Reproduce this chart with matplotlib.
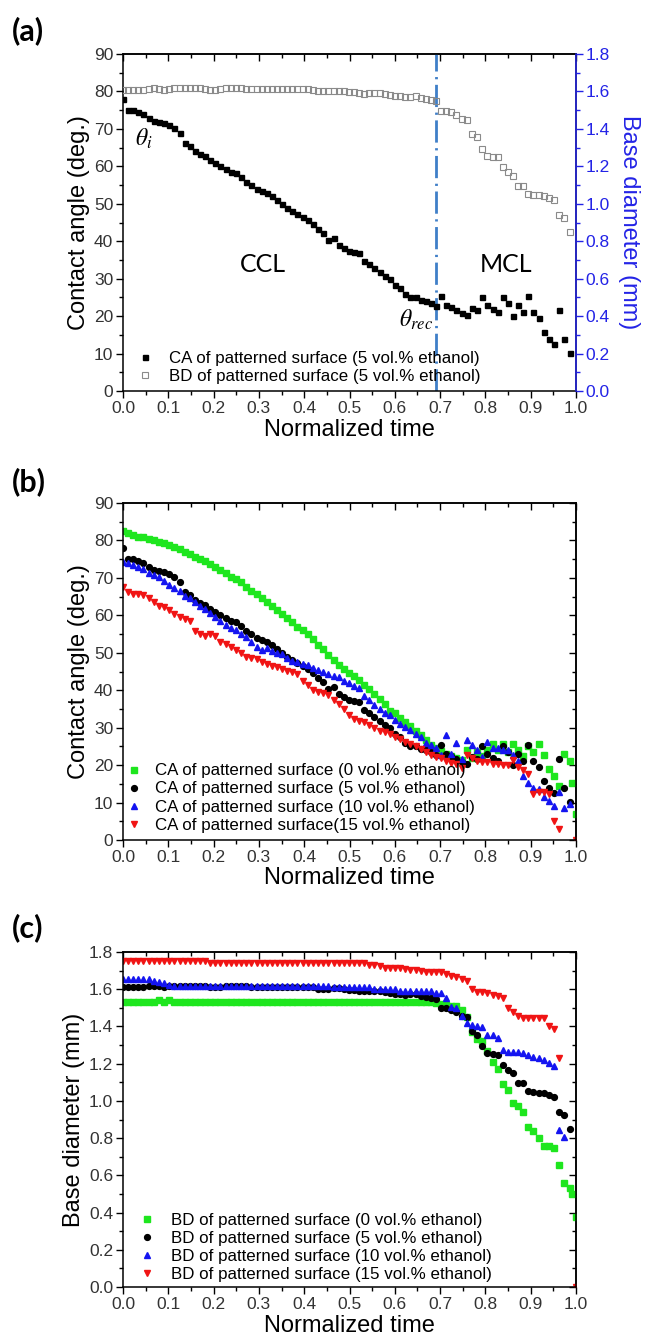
import numpy as np
import matplotlib
matplotlib.use('Agg')
import matplotlib.pyplot as plt
from matplotlib.ticker import MultipleLocator, NullFormatter, FormatStrFormatter
from matplotlib.lines import Line2D

plt.rcParams['font.family'] = ['Liberation Sans', 'DejaVu Sans']
plt.rcParams['mathtext.fontset'] = 'stix'

GREEN = '#1ee61e'
BLUE = '#1414f0'
RED = '#f01414'
GRAY = '#8a8a8a'
VLINE = '#3f7fc8'
AXIS_BLUE = '#2323e6'
TICK_COLOR = '#333333'

# normalized time of each sample
T = [
    0.000, 0.011, 0.023, 0.034, 0.045, 0.057, 0.068, 0.079, 0.091, 0.102,
    0.113, 0.125, 0.136, 0.147, 0.159, 0.170, 0.181, 0.193, 0.204, 0.215,
    0.227, 0.238, 0.249, 0.261, 0.272, 0.283, 0.295, 0.306, 0.317, 0.329,
    0.340, 0.351, 0.363, 0.374, 0.385, 0.397, 0.408, 0.419, 0.431, 0.442,
    0.453, 0.465, 0.476, 0.487, 0.499, 0.510, 0.521, 0.533, 0.544, 0.555,
    0.567, 0.578, 0.589, 0.600, 0.612, 0.623, 0.634, 0.646, 0.657, 0.668,
    0.680, 0.691, 0.702, 0.714, 0.725, 0.736, 0.748, 0.759, 0.770, 0.782,
    0.793, 0.804, 0.816, 0.827, 0.838, 0.850, 0.861, 0.872, 0.884, 0.895,
    0.906, 0.918, 0.929, 0.940, 0.952, 0.963, 0.974, 0.986, 0.992, 1.000,
]

# contact angle (deg.)
CA_0 = [
    82.4, 82.0, 81.5, 81.0, 80.8, 80.3, 80.0, 79.6, 79.3, 78.8,
    78.3, 77.6, 77.0, 76.3, 75.6, 75.0, 74.4, 73.6, 72.8, 72.0,
    71.2, 70.3, 69.6, 68.8, 67.5, 66.6, 65.6, 64.6, 63.6, 62.6,
    61.5, 60.4, 59.2, 58.1, 57.0, 56.0, 55.0, 53.6, 52.2, 50.9,
    49.5, 48.0, 46.8, 45.6, 44.7, 43.8, 42.7, 41.5, 40.2, 39.0,
    37.7, 36.4, 34.5, 33.8, 32.7, 31.6, 30.4, 29.2, 28.0, 26.7,
    25.5, 24.6, 23.8, 23.0, 22.3, 21.8, 21.3, 24.0, 22.0, 23.5,
    22.5, 24.0, 25.6, 24.0, 25.6, 23.5, 25.6, 24.0, 22.5, 25.2,
    23.4, 25.6, 22.7, 18.9, 17.1, 14.4, 22.9, 21.0, 15.3, 7.0,
]
CA_5 = [
    78.0, 75.0, 75.0, 74.5, 74.0, 73.0, 72.2, 71.8, 71.5, 71.0,
    70.3, 69.0, 66.3, 65.3, 64.0, 63.2, 62.8, 61.8, 60.8, 60.2,
    59.3, 58.5, 58.3, 57.2, 55.8, 55.0, 54.0, 53.3, 52.8, 52.0,
    51.0, 50.0, 49.0, 48.2, 47.3, 46.5, 45.7, 44.5, 43.3, 42.3,
    40.3, 40.9, 39.0, 38.2, 37.5, 37.0, 36.8, 34.6, 33.8, 32.8,
    31.8, 30.8, 30.0, 28.3, 27.5, 26.0, 25.0, 25.2, 24.3, 24.0,
    23.5, 22.8, 25.3, 23.0, 22.3, 21.6, 20.9, 20.4, 22.2, 21.6,
    25.0, 23.0, 22.0, 21.0, 25.0, 23.6, 20.0, 22.9, 21.0, 25.3,
    21.2, 19.4, 15.7, 13.9, 12.6, 21.5, 13.8, 10.1, None, None,
]
CA_10 = [
    74.3, 74.0, 73.5, 73.0, 72.3, 71.2, 70.8, 70.3, 69.3, 68.2,
    67.3, 66.5, 65.2, 64.5, 63.5, 62.6, 61.8, 60.5, 59.5, 58.5,
    57.5, 56.5, 56.0, 55.0, 54.3, 53.0, 51.5, 50.8, 51.2, 50.5,
    50.0, 49.8, 48.5, 47.8, 47.5, 47.0, 46.8, 46.0, 45.5, 44.8,
    44.3, 43.8, 43.5, 42.5, 41.8, 41.0, 40.5, 38.5, 37.3, 36.0,
    35.0, 34.0, 33.3, 32.0, 31.0, 30.3, 29.5, 28.3, 27.5, 26.0,
    25.3, 24.5, 22.8, 28.0, 23.0, 25.8, 21.5, 26.7, 25.3, 24.0,
    22.2, 26.3, 24.7, 24.5, 24.0, 24.0, 22.7, 21.0, 17.0, 15.2,
    13.8, 13.5, 11.6, 10.3, 9.0, 12.7, 8.5, 9.7, None, None,
]
CA_15 = [
    67.5, 66.3, 65.7, 65.6, 65.3, 64.5, 63.5, 62.6, 62.2, 61.5,
    60.3, 59.5, 59.0, 58.5, 55.9, 55.0, 54.6, 55.0, 54.5, 52.8,
    52.4, 51.5, 50.8, 50.0, 49.0, 48.6, 48.3, 47.5, 47.0, 46.6,
    46.2, 45.8, 45.2, 44.8, 44.3, 42.5, 41.3, 40.0, 39.5, 39.2,
    38.8, 37.5, 36.2, 35.0, 33.5, 32.3, 31.8, 31.5, 30.8, 29.8,
    29.2, 28.8, 28.3, 27.5, 27.0, 26.2, 25.6, 25.0, 24.3, 23.5,
    22.8, 22.2, 21.8, 21.2, 20.6, 20.2, 19.3, 22.8, 22.0, 21.2,
    20.8, 20.7, 20.4, 20.3, 20.0, 19.9, 21.3, 19.5, 18.8, 17.5,
    12.4, 12.9, 12.8, 12.4, 5.2, 3.0, None, None, None, 0.0,
]

# base diameter (mm)
BD_0 = [
    1.530, 1.530, 1.530, 1.530, 1.530, 1.530, 1.530, 1.540, 1.530, 1.540,
    1.530, 1.530, 1.530, 1.530, 1.530, 1.530, 1.530, 1.530, 1.530, 1.530,
    1.530, 1.530, 1.530, 1.530, 1.530, 1.530, 1.530, 1.530, 1.530, 1.530,
    1.530, 1.530, 1.530, 1.530, 1.530, 1.530, 1.530, 1.530, 1.530, 1.530,
    1.530, 1.530, 1.530, 1.530, 1.530, 1.530, 1.530, 1.530, 1.530, 1.530,
    1.530, 1.530, 1.530, 1.530, 1.530, 1.530, 1.530, 1.530, 1.530, 1.530,
    1.530, 1.525, 1.520, 1.515, 1.510, 1.512, 1.490, 1.450, 1.370, 1.330,
    1.320, 1.270, 1.210, 1.170, 1.090, 1.060, 0.990, 0.970, 0.940, 0.860,
    0.840, 0.800, 0.760, 0.755, 0.745, 0.656, 0.558, 0.530, 0.500, 0.375,
]
BD_5 = [
    1.610, 1.610, 1.610, 1.610, 1.610, 1.615, 1.618, 1.615, 1.610, 1.615,
    1.618, 1.618, 1.618, 1.618, 1.618, 1.618, 1.615, 1.610, 1.610, 1.613,
    1.618, 1.618, 1.618, 1.618, 1.615, 1.613, 1.613, 1.613, 1.613, 1.613,
    1.613, 1.613, 1.613, 1.613, 1.613, 1.613, 1.613, 1.610, 1.600, 1.600,
    1.600, 1.605, 1.605, 1.600, 1.598, 1.595, 1.590, 1.588, 1.590, 1.592,
    1.590, 1.585, 1.580, 1.575, 1.575, 1.570, 1.572, 1.575, 1.565, 1.560,
    1.555, 1.548, 1.497, 1.497, 1.490, 1.475, 1.455, 1.449, 1.373, 1.355,
    1.293, 1.257, 1.250, 1.248, 1.195, 1.168, 1.150, 1.097, 1.097, 1.052,
    1.048, 1.045, 1.040, 1.030, 1.022, 0.940, 0.922, 0.848, None, None,
]
BD_10 = [
    1.655, 1.655, 1.655, 1.655, 1.655, 1.655, 1.645, 1.640, 1.635, 1.625,
    1.620, 1.620, 1.620, 1.620, 1.620, 1.620, 1.620, 1.620, 1.620, 1.620,
    1.620, 1.620, 1.620, 1.620, 1.620, 1.620, 1.620, 1.620, 1.620, 1.620,
    1.620, 1.620, 1.620, 1.620, 1.620, 1.620, 1.620, 1.620, 1.620, 1.620,
    1.620, 1.610, 1.610, 1.610, 1.610, 1.610, 1.610, 1.610, 1.610, 1.600,
    1.600, 1.600, 1.600, 1.600, 1.590, 1.590, 1.590, 1.590, 1.590, 1.590,
    1.590, 1.580, 1.580, 1.551, 1.506, 1.497, 1.455, 1.417, 1.408, 1.405,
    1.399, 1.354, 1.354, 1.336, 1.273, 1.265, 1.265, 1.265, 1.260, 1.247,
    1.238, 1.229, 1.220, 1.203, 1.185, 0.845, 0.805, None, None, None,
]
BD_15 = [
    1.752, 1.752, 1.752, 1.752, 1.752, 1.752, 1.752, 1.752, 1.752, 1.752,
    1.752, 1.752, 1.752, 1.752, 1.752, 1.752, 1.752, 1.741, 1.741, 1.741,
    1.741, 1.741, 1.741, 1.741, 1.741, 1.741, 1.741, 1.741, 1.741, 1.741,
    1.741, 1.741, 1.741, 1.741, 1.741, 1.741, 1.741, 1.741, 1.741, 1.741,
    1.741, 1.741, 1.741, 1.741, 1.741, 1.741, 1.741, 1.741, 1.728, 1.728,
    1.725, 1.716, 1.716, 1.716, 1.716, 1.710, 1.705, 1.705, 1.700, 1.693,
    1.693, 1.693, 1.690, 1.680, 1.672, 1.665, 1.655, 1.645, 1.600, 1.585,
    1.585, 1.580, 1.570, 1.562, 1.555, 1.498, 1.475, 1.455, 1.448, 1.448,
    1.448, 1.448, 1.448, 1.400, 1.388, 1.230, None, None, None, 0.000,
]

REC_TIME = 0.69  # onset of moving contact line

CA_LABELS = [
    'CA of patterned surface (0 vol.% ethanol)',
    'CA of patterned surface (5 vol.% ethanol)',
    'CA of patterned surface (10 vol.% ethanol)',
    'CA of patterned surface(15 vol.% ethanol)',
]
BD_LABELS = [
    'BD of patterned surface (0 vol.% ethanol)',
    'BD of patterned surface (5 vol.% ethanol)',
    'BD of patterned surface (10 vol.% ethanol)',
    'BD of patterned surface (15 vol.% ethanol)',
]

STYLES = [
    dict(marker='s', color=GREEN, ms=3.8),
    dict(marker='o', color='black', ms=4.2),
    dict(marker='^', color=BLUE, ms=4.6),
    dict(marker='v', color=RED, ms=4.6),
]

FIG_W, FIG_H = 646, 1336
AX_L, AX_W = 123 / FIG_W, 453 / FIG_W


def arr(v):
    return np.array(v, dtype=float)


def style_axes(ax, ymajor, yminor, yfmt, right_in=True):
    ax.set_xlim(0, 1.0)
    ax.xaxis.set_major_locator(MultipleLocator(0.1))
    ax.xaxis.set_minor_locator(MultipleLocator(0.05))
    ax.xaxis.set_major_formatter(FormatStrFormatter('%.1f'))
    ax.yaxis.set_major_locator(MultipleLocator(ymajor))
    ax.yaxis.set_minor_locator(MultipleLocator(yminor))
    ax.yaxis.set_major_formatter(FormatStrFormatter(yfmt))
    ax.tick_params(which='both', direction='out', width=1.0, labelsize=12.5,
                   labelcolor=TICK_COLOR, pad=2, top=False, right=False)
    ax.tick_params(which='major', length=5)
    ax.tick_params(which='minor', length=3)
    for s in ax.spines.values():
        s.set_linewidth(1.1)

    top = ax.secondary_xaxis('top')
    top.xaxis.set_major_locator(MultipleLocator(0.1))
    top.xaxis.set_minor_locator(MultipleLocator(0.05))
    top.xaxis.set_major_formatter(NullFormatter())
    top.tick_params(which='both', direction='in', width=1.0)
    top.tick_params(which='major', length=5)
    top.tick_params(which='minor', length=3)
    top.spines['top'].set_linewidth(1.1)

    if right_in:
        right = ax.secondary_yaxis('right')
        right.yaxis.set_major_locator(MultipleLocator(ymajor))
        right.yaxis.set_minor_locator(MultipleLocator(yminor))
        right.yaxis.set_major_formatter(NullFormatter())
        right.tick_params(which='both', direction='in', width=1.0)
        right.tick_params(which='major', length=5)
        right.tick_params(which='minor', length=3)
        right.spines['right'].set_linewidth(1.1)

    ax.set_xlabel('Normalized time', fontsize=17, labelpad=2)


def legend(ax, handles, anchor, textpad):
    ax.legend(handles=handles, loc='lower left', bbox_to_anchor=anchor,
              frameon=False, fontsize=12.2, handlelength=1.0,
              handletextpad=textpad, labelspacing=0.18, borderpad=0,
              borderaxespad=0, numpoints=1)


def panel_label(fig, y_px, text):
    fig.text(12 / FIG_W, 1 - y_px / FIG_H, text, fontsize=22, fontweight='bold',
             family=['Lato', 'DejaVu Sans'], ha='left', va='center')


def build_fig():
    fig = plt.figure(figsize=(FIG_W / 100, FIG_H / 100), dpi=100)
    t = arr(T)

    # (a) CA and BD for 5 vol.% ethanol
    ax = fig.add_axes([AX_L, 1 - 391 / FIG_H, AX_W, 337 / FIG_H])
    style_axes(ax, 10, 5, '%d', right_in=False)
    ax.set_ylim(0, 90)
    ax.set_ylabel('Contact angle (deg.)', fontsize=17, labelpad=3)
    ax.axvline(REC_TIME, color=VLINE, lw=2, ls=(0, (8, 2, 0.8, 2)))
    ax.plot(t, arr(CA_5), ls='none', marker='s', ms=3.6, color='black')
    ax.text(0.31, 33.7, 'CCL', fontsize=18, family=['Lato', 'DejaVu Sans'],
            ha='center', va='center')
    ax.text(0.845, 33.7, 'MCL', fontsize=18, family=['Lato', 'DejaVu Sans'],
            ha='center', va='center')
    ax.text(0.045, 67.3, r'$\theta_i$', fontsize=17, ha='center', va='center')
    ax.text(0.648, 19.0, r'$\theta_{rec}$', fontsize=17, ha='center', va='center')

    ax2 = ax.twinx()
    ax2.set_ylim(0, 1.8)
    ax2.yaxis.set_major_locator(MultipleLocator(0.2))
    ax2.yaxis.set_minor_locator(MultipleLocator(0.1))
    ax2.yaxis.set_major_formatter(FormatStrFormatter('%.1f'))
    ax2.tick_params(which='both', direction='out', width=1.0, colors=AXIS_BLUE,
                    labelsize=12.5, pad=2)
    ax2.tick_params(which='major', length=5)
    ax2.tick_params(which='minor', length=3)
    for side in ['left', 'top', 'bottom']:
        ax2.spines[side].set_visible(False)
    ax2.spines['right'].set_color(AXIS_BLUE)
    ax2.spines['right'].set_linewidth(1.1)
    ax2.set_ylabel('Base diameter (mm)', fontsize=17, color=AXIS_BLUE,
                   rotation=270, va='bottom', labelpad=6)
    ax2.plot(t, arr(BD_5), ls='none', marker='s', ms=4.0,
             mfc='none', mec=GRAY, mew=0.8)
    legend(ax2, [
        Line2D([0], [0], ls='none', marker='s', ms=3.6, color='black',
               label='CA of patterned surface (5 vol.% ethanol)'),
        Line2D([0], [0], ls='none', marker='s', ms=4.0, mfc='none', mec=GRAY,
               mew=0.8, label='BD of patterned surface (5 vol.% ethanol)'),
    ], (0.03, 0.022), 0.9)
    panel_label(fig, 31, '(a)')

    # (b) contact angle, all ethanol contents
    ax = fig.add_axes([AX_L, 1 - 840 / FIG_H, AX_W, 337 / FIG_H])
    style_axes(ax, 10, 5, '%d')
    ax.set_ylim(0, 90)
    ax.set_ylabel('Contact angle (deg.)', fontsize=17, labelpad=3)
    handles = []
    for vals, st, lab in zip([CA_0, CA_5, CA_10, CA_15], STYLES, CA_LABELS):
        h, = ax.plot(t, arr(vals), ls='none', label=lab, **st)
        handles.append(h)
    legend(ax, handles, (0.005, 0.022), 0.75)
    panel_label(fig, 482, '(b)')

    # (c) base diameter, all ethanol contents
    ax = fig.add_axes([AX_L, 1 - 1287 / FIG_H, AX_W, 335 / FIG_H])
    style_axes(ax, 0.2, 0.1, '%.1f')
    ax.set_ylim(0, 1.8)
    ax.set_ylabel('Base diameter (mm)', fontsize=17, labelpad=3)
    handles = []
    for vals, st, lab in zip([BD_0, BD_5, BD_10, BD_15], STYLES, BD_LABELS):
        h, = ax.plot(t, arr(vals), ls='none', label=lab, **st)
        handles.append(h)
    legend(ax, handles, (0.035, 0.015), 0.9)
    panel_label(fig, 928, '(c)')

    return fig


def main():
    fig = build_fig()
    fig.savefig('out.png', dpi=100)


if __name__ == '__main__':
    main()
